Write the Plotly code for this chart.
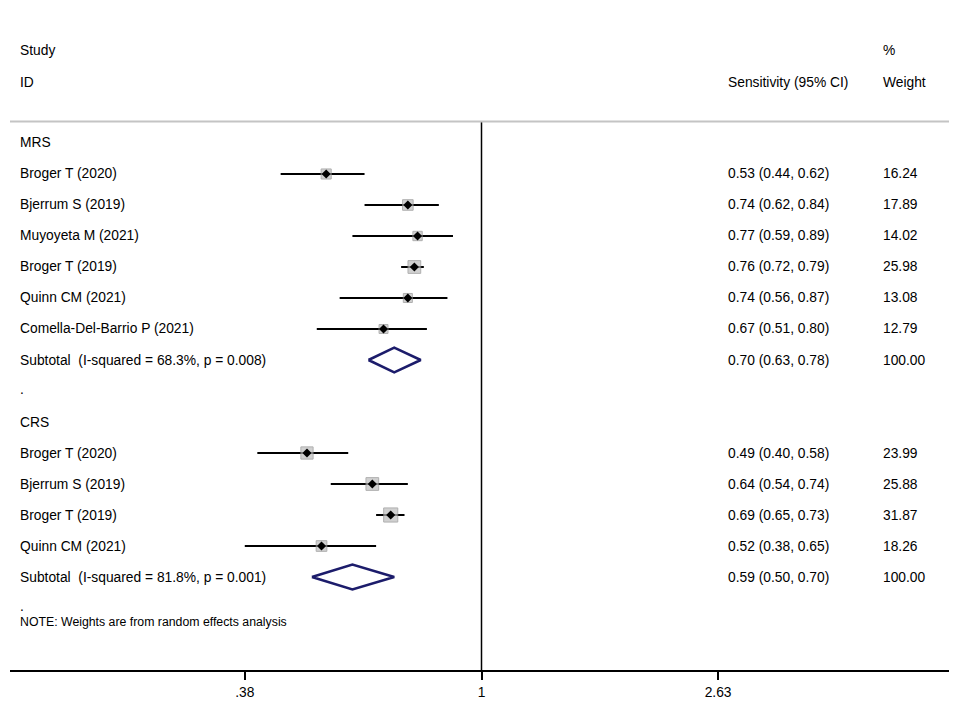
import plotly.graph_objects as go
import math

# --- data ---
mrs_studies = ["Broger T (2020)", "Bjerrum S (2019)", "Muyoyeta M (2021)",
               "Broger T (2019)", "Quinn CM (2021)", "Comella-Del-Barrio P (2021)"]
mrs_est = [0.53, 0.74, 0.77, 0.76, 0.74, 0.67]
mrs_lo = [0.44, 0.62, 0.59, 0.72, 0.56, 0.51]
mrs_hi = [0.62, 0.84, 0.89, 0.79, 0.87, 0.80]
mrs_weight = [16.24, 17.89, 14.02, 25.98, 13.08, 12.79]
mrs_sub = (0.70, 0.63, 0.78)
mrs_het = "Subtotal  (I-squared = 68.3%, p = 0.008)"

crs_studies = ["Broger T (2020)", "Bjerrum S (2019)", "Broger T (2019)", "Quinn CM (2021)"]
crs_est = [0.49, 0.64, 0.69, 0.52]
crs_lo = [0.40, 0.54, 0.65, 0.38]
crs_hi = [0.58, 0.74, 0.73, 0.65]
crs_weight = [23.99, 25.88, 31.87, 18.26]
crs_sub = (0.59, 0.50, 0.70)
crs_het = "Subtotal  (I-squared = 81.8%, p = 0.001)"

tick_vals = [0.38, 1, 2.63]
tick_text = [".38", "1", "2.63"]

FONT = "Arial, Liberation Sans, sans-serif"
FS = 13.8
NAVY = "#1c1c6b"

groups = [("MRS", mrs_studies, mrs_est, mrs_lo, mrs_hi, mrs_weight, mrs_sub, mrs_het),
          ("CRS", crs_studies, crs_est, crs_lo, crs_hi, crs_weight, crs_sub, crs_het)]

fig = go.Figure()
ann = []


def text(x, y, s, size=FS):
    ann.append(dict(x=x, y=y, xref="paper", yref="y", text=s, showarrow=False,
                    xanchor="left", yanchor="middle",
                    font=dict(family=FONT, size=size, color="black")))


X_ID, X_CI, X_W = 0.0085, 0.7593, 0.9233

r = 0  # row index, grows downward
for gname, names, est, lo, hi, w, sub, het in groups:
    text(X_ID, r, gname)
    r += 1
    ys = list(range(r, r + len(names)))
    # CI lines
    lx, ly = [], []
    for y, a, b in zip(ys, lo, hi):
        lx += [a, b, None]
        ly += [y, y, None]
    fig.add_trace(go.Scatter(x=lx, y=ly, mode="lines",
                             line=dict(color="black", width=2), hoverinfo="skip"))
    # weight boxes
    fig.add_trace(go.Scatter(x=est, y=ys, mode="markers",
                             marker=dict(symbol="square", color="#bdbdbd",
                                         size=[2.5 * math.sqrt(v) for v in w],
                                         line=dict(color="#8f8f8f", width=1))))
    # point estimate
    fig.add_trace(go.Scatter(x=est, y=ys, mode="markers",
                             marker=dict(symbol="diamond", color="black", size=7)))
    for y, n, e, a, b, wt in zip(ys, names, est, lo, hi, w):
        text(X_ID, y, n)
        text(X_CI, y, f"{e:.2f} ({a:.2f}, {b:.2f})")
        text(X_W, y, f"{wt:.2f}")
    r += len(names)
    # subtotal diamond
    e, a, b = sub
    h = 0.4
    fig.add_trace(go.Scatter(x=[a, e, b, e, a], y=[r, r - h, r, r + h, r],
                             mode="lines", line=dict(color=NAVY, width=2.5),
                             hoverinfo="skip"))
    text(X_ID, r, het)
    text(X_CI, r, f"{e:.2f} ({a:.2f}, {b:.2f})")
    text(X_W, r, "100.00")
    r += 1
    text(X_ID, r - 0.05, ".")
    r += 1

text(X_ID, 15.45, "NOTE: Weights are from random effects analysis", size=12.3)

# headers
text(X_ID, -2.97, "Study")
text(X_ID, -1.95, "ID")
text(X_W, -2.97, "%")
text(X_W, -1.95, "Weight")
text(X_CI, -1.95, "Sensitivity (95% CI)")

# no-effect line
Y_TOP, Y_BOT = -0.69, 17.0
fig.add_trace(go.Scatter(x=[1, 1], y=[Y_TOP, Y_BOT], mode="lines",
                         line=dict(color="black", width=1.5), hoverinfo="skip"))

fig.add_shape(type="line", xref="paper", yref="y", x0=0, x1=1, y0=Y_TOP, y1=Y_TOP,
              line=dict(color="#c4c4c4", width=2))

fig.update_layout(
    width=949, height=718,
    margin=dict(l=2, r=4, t=2, b=56),
    plot_bgcolor="white", paper_bgcolor="white",
    showlegend=False,
    annotations=ann,
    xaxis=dict(type="log", range=[-0.837, 0.837], tickvals=tick_vals,
               ticktext=tick_text, showgrid=False, zeroline=False,
               showline=True, linecolor="black", linewidth=2,
               ticks="outside", ticklen=8, tickwidth=1.5, tickcolor="black",
               tickfont=dict(family=FONT, size=FS, color="black")),
    yaxis=dict(range=[Y_BOT, -4.29], visible=False, showgrid=False, zeroline=False),
)

fig.write_html("out.html")
